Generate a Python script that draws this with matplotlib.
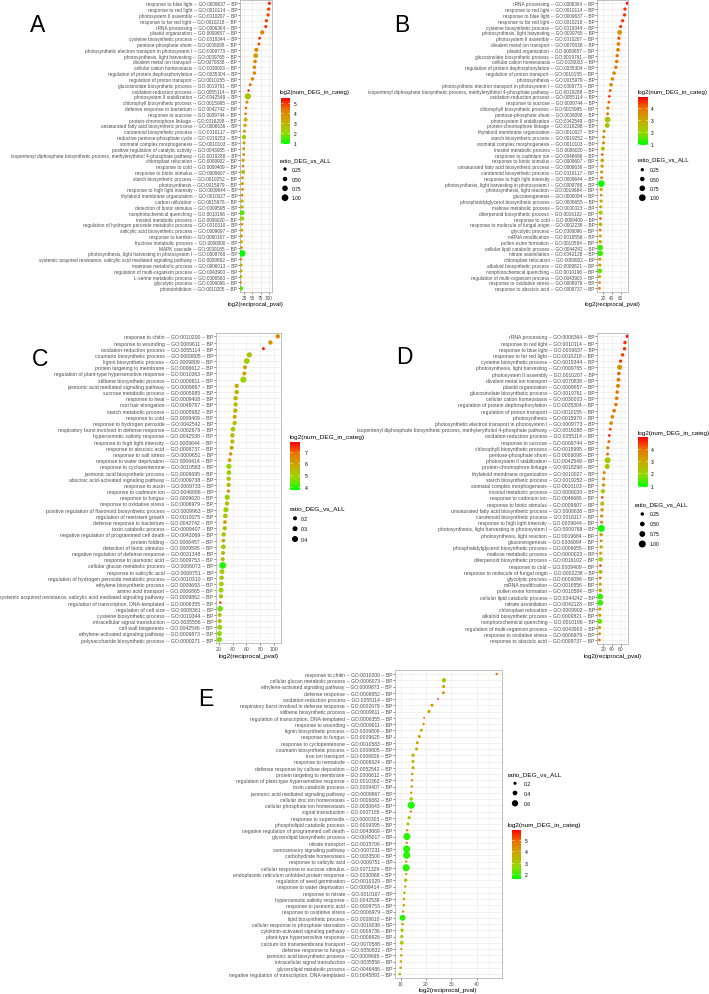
import numpy as np
import matplotlib
matplotlib.use("Agg")
import matplotlib.pyplot as plt
from matplotlib.colors import LinearSegmentedColormap, Normalize
from matplotlib.cm import ScalarMappable

W, H = 709, 995
plt.rcParams["font.family"] = ["Liberation Sans", "DejaVu Sans"]

# ---------------------------------------------------------------- panel A
terms_a = [
    "response to blue light -- GO:0009637",
    "response to red light -- GO:0010114",
    "photosystem II assembly -- GO:0010207",
    "response to far red light -- GO:0010218",
    "rRNA processing -- GO:0006364",
    "plastid organization -- GO:0009657",
    "cysteine biosynthetic process -- GO:0019344",
    "pentose-phosphate shunt -- GO:0006098",
    "photosynthetic electron transport in photosystem I -- GO:0009773",
    "photosynthesis, light harvesting -- GO:0009765",
    "divalent metal ion transport -- GO:0070838",
    "cellular cation homeostasis -- GO:0030003",
    "regulation of protein dephosphorylation -- GO:0035304",
    "regulation of proton transport -- GO:0010155",
    "glucosinolate biosynthetic process -- GO:0019761",
    "oxidation-reduction process -- GO:0055114",
    "photosystem II stabilization -- GO:0042549",
    "chlorophyll biosynthetic process -- GO:0015995",
    "defense response to bacterium -- GO:0042742",
    "response to sucrose -- GO:0009744",
    "protein-chromophore linkage -- GO:0018298",
    "unsaturated fatty acid biosynthetic process -- GO:0006636",
    "carotenoid biosynthetic process -- GO:0016117",
    "reductive pentose-phosphate cycle -- GO:0019253",
    "stomatal complex morphogenesis -- GO:0010103",
    "positive regulation of catalytic activity -- GO:0043085",
    "isopentenyl diphosphate biosynthetic process, methylerythritol 4-phosphate pathway -- GO:0019288",
    "chloroplast relocation -- GO:0009902",
    "response to cold -- GO:0009409",
    "response to biotic stimulus -- GO:0009607",
    "starch biosynthetic process -- GO:0019252",
    "photosynthesis -- GO:0015979",
    "response to high light intensity -- GO:0009644",
    "thylakoid membrane organization -- GO:0010027",
    "carbon utilization -- GO:0015976",
    "detection of biotic stimulus -- GO:0009595",
    "nonphotochemical quenching -- GO:0010196",
    "inositol metabolic process -- GO:0006020",
    "regulation of hydrogen peroxide metabolic process -- GO:0010310",
    "salicylic acid biosynthetic process -- GO:0009697",
    "response to karrikin -- GO:0080167",
    "fructose metabolic process -- GO:0006000",
    "MAPK cascade -- GO:0000165",
    "photosynthesis, light harvesting in photosystem I -- GO:0009768",
    "systemic acquired resistance, salicylic acid mediated signaling pathway -- GO:0009862",
    "mannose metabolic process -- GO:0006013",
    "regulation of multi-organism process -- GO:0043900",
    "L-serine metabolic process -- GO:0006563",
    "glycolytic process -- GO:0006096",
    "photoinhibition -- GO:0010205",
]
pval_a = [102, 100, 98, 93, 91, 80, 72, 70, 62, 60, 58, 56, 56, 50, 43, 38, 36, 33, 30, 29,
          29, 27, 25, 24, 24, 23, 23, 21, 21, 21, 19, 19, 19, 18, 18, 18, 18, 18, 17, 17,
          16, 16, 16, 18, 15, 15, 15, 14, 13, 14]
count_a = [4.9, 4.9, 4.8, 4.8, 5.0, 4.2, 4.9, 4.8, 3.8, 3.4, 4.0, 4.0, 4.0, 3.9, 4.5, 5.45, 2.6, 4.0, 4.4, 4.2,
           3.0, 3.3, 3.6, 2.4, 3.6, 3.7, 4.0, 3.3, 4.4, 2.6, 3.8, 3.2, 4.0, 3.8, 3.0, 3.0, 1.6, 2.1, 3.8, 3.2,
           3.6, 3.2, 3.8, 1.0, 3.8, 3.0, 3.0, 3.0, 4.2, 1.6]
ratio_a = [0.25, 0.25, 0.25, 0.25, 0.2, 0.45, 0.18, 0.17, 0.45, 0.6, 0.33, 0.3, 0.3, 0.3, 0.15, 0.02, 0.9, 0.18, 0.1, 0.1,
           0.4, 0.25, 0.18, 0.5, 0.18, 0.15, 0.12, 0.25, 0.08, 0.4, 0.15, 0.22, 0.12, 0.15, 0.25, 0.25, 0.6, 0.45, 0.12, 0.2,
           0.15, 0.2, 0.12, 1.0, 0.1, 0.22, 0.22, 0.22, 0.1, 0.5]

# ---------------------------------------------------------------- panel B (D shows the same terms)
terms_b = [
    "rRNA processing -- GO:0006364",
    "response to red light -- GO:0010114",
    "response to blue light -- GO:0009637",
    "response to far red light -- GO:0010218",
    "cysteine biosynthetic process -- GO:0019344",
    "photosynthesis, light harvesting -- GO:0009765",
    "photosystem II assembly -- GO:0010207",
    "divalent metal ion transport -- GO:0070838",
    "plastid organization -- GO:0009657",
    "glucosinolate biosynthetic process -- GO:0019761",
    "cellular cation homeostasis -- GO:0030003",
    "regulation of protein dephosphorylation -- GO:0035304",
    "regulation of proton transport -- GO:0010155",
    "photosynthesis -- GO:0015979",
    "photosynthetic electron transport in photosystem I -- GO:0009773",
    "isopentenyl diphosphate biosynthetic process, methylerythritol 4-phosphate pathway -- GO:0019288",
    "oxidation-reduction process -- GO:0055114",
    "response to sucrose -- GO:0009744",
    "chlorophyll biosynthetic process -- GO:0015995",
    "pentose-phosphate shunt -- GO:0006098",
    "photosystem II stabilization -- GO:0042549",
    "protein-chromophore linkage -- GO:0018298",
    "thylakoid membrane organization -- GO:0010027",
    "starch biosynthetic process -- GO:0019252",
    "stomatal complex morphogenesis -- GO:0010103",
    "inositol metabolic process -- GO:0006020",
    "response to cadmium ion -- GO:0046686",
    "response to biotic stimulus -- GO:0009607",
    "unsaturated fatty acid biosynthetic process -- GO:0006636",
    "carotenoid biosynthetic process -- GO:0016117",
    "response to high light intensity -- GO:0009644",
    "photosynthesis, light harvesting in photosystem I -- GO:0009768",
    "photosynthesis, light reaction -- GO:0019684",
    "gluconeogenesis -- GO:0006094",
    "phosphatidylglycerol biosynthetic process -- GO:0006655",
    "maltose metabolic process -- GO:0000023",
    "diterpenoid biosynthetic process -- GO:0016102",
    "response to cold -- GO:0009409",
    "response to molecule of fungal origin -- GO:0002238",
    "glycolytic process -- GO:0006096",
    "mRNA modification -- GO:0016556",
    "pollen exine formation -- GO:0010584",
    "cellular lipid catabolic process -- GO:0044242",
    "nitrate assimilation -- GO:0042128",
    "chloroplast relocation -- GO:0009902",
    "alkaloid biosynthetic process -- GO:0009821",
    "nonphotochemical quenching -- GO:0010196",
    "regulation of multi-organism process -- GO:0043900",
    "response to oxidative stress -- GO:0006979",
    "response to abscisic acid -- GO:0009737",
]
pval_b = [75.4, 70, 69, 64.6, 60, 57.7, 56, 55, 54, 52, 51, 49, 45, 41, 38, 36, 34, 33, 30.5, 30,
          30, 29, 22, 21, 20.5, 19, 17.5, 17.5, 17, 16, 16, 15.5, 15, 15, 15, 14, 14, 13.5, 13.5, 13,
          13, 13, 13, 13, 12, 12, 12, 11.5, 11.5, 11]
count_b = [4.85, 4.5, 4.5, 4.4, 4.5, 3.3, 4.2, 3.9, 3.8, 4.0, 3.9, 4.0, 3.8, 3.6, 3.5, 4.1, 4.9, 4.0, 3.8, 4.0,
           2.3, 2.5, 3.6, 3.6, 3.3, 2.3, 4.4, 2.6, 3.2, 3.3, 3.8, 1.0, 3.0, 3.8, 3.0, 3.0, 2.1, 4.3, 2.5, 4.0,
           3.0, 2.7, 1.3, 1.3, 3.2, 3.0, 1.6, 3.0, 3.8, 3.8]
ratio_b = [0.2, 0.25, 0.25, 0.25, 0.2, 0.6, 0.25, 0.33, 0.35, 0.25, 0.3, 0.25, 0.3, 0.3, 0.3, 0.15, 0.05, 0.15, 0.2, 0.15,
           0.8, 0.6, 0.18, 0.18, 0.22, 0.4, 0.05, 0.35, 0.22, 0.2, 0.15, 1.0, 0.25, 0.1, 0.22, 0.2, 0.45, 0.08, 0.35, 0.1,
           0.2, 0.3, 0.75, 0.75, 0.2, 0.22, 0.55, 0.2, 0.1, 0.1]
terms_d, pval_d, count_d, ratio_d = terms_b, pval_b, count_b, ratio_b

# ---------------------------------------------------------------- panel C
terms_c = [
    "response to chitin -- GO:0010200",
    "response to wounding -- GO:0009611",
    "oxidation-reduction process -- GO:0055114",
    "coumarin biosynthetic process -- GO:0009805",
    "lignin biosynthetic process -- GO:0009809",
    "protein targeting to membrane -- GO:0006612",
    "regulation of plant-type hypersensitive response -- GO:0010363",
    "stilbene biosynthetic process -- GO:0009811",
    "jasmonic acid mediated signaling pathway -- GO:0009867",
    "sucrose metabolic process -- GO:0005985",
    "response to heat -- GO:0009408",
    "root hair elongation -- GO:0048767",
    "starch metabolic process -- GO:0005982",
    "response to cold -- GO:0009409",
    "response to hydrogen peroxide -- GO:0042542",
    "respiratory burst involved in defense response -- GO:0002679",
    "hyperosmotic salinity response -- GO:0042538",
    "response to high light intensity -- GO:0009644",
    "response to abscisic acid -- GO:0009737",
    "response to salt stress -- GO:0009651",
    "response to water deprivation -- GO:0009414",
    "response to cyclopentenone -- GO:0010583",
    "jasmonic acid biosynthetic process -- GO:0009695",
    "abscisic acid-activated signaling pathway -- GO:0009738",
    "response to auxin -- GO:0009733",
    "response to cadmium ion -- GO:0046686",
    "response to fungus -- GO:0009620",
    "response to oxidative stress -- GO:0006979",
    "positive regulation of flavonoid biosynthetic process -- GO:0009963",
    "regulation of meristem growth -- GO:0010075",
    "defense response to bacterium -- GO:0042742",
    "toxin catabolic process -- GO:0009407",
    "negative regulation of programmed cell death -- GO:0043069",
    "protein folding -- GO:0006457",
    "detection of biotic stimulus -- GO:0009595",
    "negative regulation of defense response -- GO:0031348",
    "response to jasmonic acid -- GO:0009753",
    "cellular glucan metabolic process -- GO:0006073",
    "response to salicylic acid -- GO:0009751",
    "regulation of hydrogen peroxide metabolic process -- GO:0010310",
    "ethylene biosynthetic process -- GO:0009693",
    "amino acid transport -- GO:0006865",
    "systemic acquired resistance, salicylic acid mediated signaling pathway -- GO:0009862",
    "regulation of transcription, DNA-templated -- GO:0006355",
    "regulation of cell size -- GO:0008361",
    "cysteine biosynthetic process -- GO:0019344",
    "intracellular signal transduction -- GO:0035556",
    "cell wall biogenesis -- GO:0042546",
    "ethylene-activated signaling pathway -- GO:0009873",
    "polysaccharide biosynthetic process -- GO:0000271",
]
pval_c = [105.3, 94.7, 84.6, 64.3, 60.5, 58, 57, 55.6, 46, 46, 44.5, 44.5, 44, 43, 43, 40.6, 39.7, 39.7, 38.7, 37.3,
          35.8, 34.8, 34.8, 34.4, 34.4, 34.0, 32.4, 32, 30.5, 29.6, 29, 28.7, 27.2, 26.7, 26.7, 26.3, 25.8, 25.8, 24.8, 24.3,
          23.9, 23.4, 23.4, 22.4, 22, 21.4, 21.4, 21.4, 21, 21]
count_c = [6.3, 6.3, 7.6, 5.2, 5.0, 6.0, 6.0, 4.8, 5.8, 5.6, 5.5, 5.3, 5.5, 5.9, 5.3, 5.2, 5.3, 5.4, 5.8, 6.3,
           6.0, 4.7, 5.0, 5.3, 5.4, 6.5, 5.0, 5.5, 4.8, 5.2, 5.9, 5.4, 5.2, 5.9, 4.9, 5.4, 5.5, 3.9, 5.1, 5.2,
           5.0, 4.8, 5.3, 7.2, 4.5, 5.2, 5.2, 4.7, 4.7, 4.6]
ratio_c = [0.24, 0.24, 0.1, 0.33, 0.38, 0.2, 0.2, 0.42, 0.22, 0.24, 0.24, 0.24, 0.24, 0.2, 0.24, 0.27, 0.25, 0.22, 0.2, 0.15,
           0.18, 0.32, 0.28, 0.24, 0.23, 0.12, 0.32, 0.23, 0.32, 0.27, 0.18, 0.23, 0.25, 0.17, 0.28, 0.2, 0.2, 0.47, 0.28, 0.24,
           0.26, 0.3, 0.22, 0.06, 0.36, 0.2, 0.22, 0.3, 0.3, 0.32]

# ---------------------------------------------------------------- panel E
terms_e = [
    "response to chitin -- GO:0010200",
    "cellular glucan metabolic process -- GO:0006073",
    "ethylene-activated signaling pathway -- GO:0009873",
    "defense response -- GO:0006952",
    "oxidation-reduction process -- GO:0055114",
    "respiratory burst involved in defense response -- GO:0002679",
    "stilbene biosynthetic process -- GO:0009811",
    "regulation of transcription, DNA-templated -- GO:0006355",
    "response to wounding -- GO:0009611",
    "lignin biosynthetic process -- GO:0009809",
    "response to fungus -- GO:0009620",
    "response to cyclopentenone -- GO:0010583",
    "coumarin biosynthetic process -- GO:0009805",
    "iron ion transport -- GO:0006826",
    "response to nematode -- GO:0009624",
    "defense response by callose deposition -- GO:0052542",
    "protein targeting to membrane -- GO:0006612",
    "regulation of plant-type hypersensitive response -- GO:0010363",
    "toxin catabolic process -- GO:0009407",
    "jasmonic acid mediated signaling pathway -- GO:0009867",
    "cellular zinc ion homeostasis -- GO:0006882",
    "cellular phosphate ion homeostasis -- GO:0030643",
    "signal transduction -- GO:0007165",
    "response to superoxide -- GO:0000303",
    "phospholipid catabolic process -- GO:0009395",
    "negative regulation of programmed cell death -- GO:0043069",
    "glycerolipid biosynthetic process -- GO:0045017",
    "nitrate transport -- GO:0015706",
    "osmosensory signaling pathway -- GO:0007231",
    "carbohydrate homeostasis -- GO:0033500",
    "response to salicylic acid -- GO:0009751",
    "cellular response to sucrose stimulus -- GO:0071329",
    "endoplasmic reticulum unfolded protein response -- GO:0030968",
    "regulation of seed germination -- GO:0010029",
    "response to water deprivation -- GO:0009414",
    "response to nitrate -- GO:0010167",
    "hyperosmotic salinity response -- GO:0042538",
    "response to jasmonic acid -- GO:0009753",
    "response to oxidative stress -- GO:0006979",
    "lipid biosynthetic process -- GO:0008610",
    "cellular response to phosphate starvation -- GO:0016036",
    "cytokinin-activated signaling pathway -- GO:0009736",
    "plant-type hypersensitive response -- GO:0009626",
    "calcium ion transmembrane transport -- GO:0070588",
    "defense response to fungus -- GO:0050832",
    "jasmonic acid biosynthetic process -- GO:0009695",
    "intracellular signal transduction -- GO:0035556",
    "glycerolipid metabolic process -- GO:0046486",
    "negative regulation of transcription, DNA-templated -- GO:0045892",
]
pval_e = [47.9, 27.1, 27, 26.9, 24.8, 22.4, 21.2, 19.3, 19.1, 18.2, 17.4, 16.6, 16.3, 14.9, 14.9, 14.9, 14.6, 14.5, 14.4, 14.2,
          14.2, 14.2, 14.0, 13.4, 12.9, 12.6, 12.5, 12.4, 12.4, 12.4, 12.2, 12.2, 12.2, 12.0, 11.8, 11.5, 11.3, 11.3, 11.0, 10.8,
          10.8, 10.6, 10.5, 10.5, 10.3, 10.3, 10.1, 10.0, 9.7]
count_e = [4.9, 3.3, 4.0, 4.3, 5.8, 4.0, 3.7, 5.4, 4.5, 3.8, 3.8, 3.7, 3.8, 3.5, 3.6, 3.4, 4.2, 4.2, 4.1, 4.2,
           3.0, 1.8, 4.3, 3.0, 3.1, 4.2, 1.9, 4.0, 1.9, 1.9, 4.0, 1.9, 4.1, 3.0, 4.2, 3.6, 3.7, 3.7, 4.3, 1.9,
           3.7, 3.0, 3.1, 2.8, 4.2, 3.7, 3.7, 3.7, 3.7]
ratio_e = [0.1, 0.35, 0.2, 0.17, 0.02, 0.2, 0.22, 0.02, 0.1, 0.2, 0.2, 0.2, 0.2, 0.22, 0.2, 0.22, 0.12, 0.12, 0.12, 0.1,
           0.27, 0.7, 0.1, 0.22, 0.2, 0.12, 0.7, 0.12, 0.7, 0.7, 0.12, 0.7, 0.1, 0.25, 0.1, 0.15, 0.15, 0.15, 0.1, 0.55,
           0.15, 0.25, 0.22, 0.3, 0.08, 0.14, 0.14, 0.14, 0.14]

CMAP = LinearSegmentedColormap.from_list(
    "green_red", ["#00FF00", "#98D700", "#C8AB00", "#E87700", "#FF0000"])
GRID = "#EBEBEB"
TXT = "#4D4D4D"

fig = plt.figure(figsize=(W / 100, H / 100), dpi=100)


def px_axes(x0, y0, x1, y1):
    """Axes placed by pixel box (top-left origin)."""
    return fig.add_axes([x0 / W, 1 - y1 / H, (x1 - x0) / W, (y1 - y0) / H])


def dot_area(r, d0, k):
    d = d0 + k * np.asarray(r, dtype=float)  # diameter in px
    return (d * 0.72) ** 2


def draw_panel(box, terms, pval, count, ratio, xlim, xticks, minor, norm, size, fs, fs_title):
    ax = px_axes(*box)
    n = len(terms)
    y = np.arange(n)
    ax.scatter(pval, y, s=dot_area(ratio, *size), c=count, cmap=CMAP, norm=norm,
               edgecolors="none", zorder=3)
    ax.set_xlim(*xlim)
    ax.set_ylim(n - 0.4, -0.6)
    ax.set_yticks(y)
    ax.set_yticklabels([t + " -- BP" for t in terms], fontsize=fs, color=TXT)
    ax.set_xticks(xticks)
    ax.set_xticklabels([str(v) for v in xticks], fontsize=fs, color=TXT)
    ax.set_xticks(minor, minor=True)
    ax.grid(which="major", color=GRID, lw=0.5)
    ax.grid(which="minor", axis="x", color="#F4F4F4", lw=0.3)
    ax.set_axisbelow(True)
    ax.tick_params(which="major", length=1.2, width=0.4, color="#333333", pad=0.8)
    ax.tick_params(which="minor", length=0)
    for sp in ax.spines.values():
        sp.set_color("#A8A8A8")
        sp.set_linewidth(0.5)
    ax.set_xlabel("log2(reciprocal_pval)", fontsize=fs_title, labelpad=1.2)
    return ax


def draw_colorbar(box, norm, ticks, fs, pad):
    cax = px_axes(*box)
    cb = fig.colorbar(ScalarMappable(norm=norm, cmap=CMAP), cax=cax)
    cb.outline.set_visible(False)
    cb.set_ticks(ticks)
    cb.set_ticklabels([str(t) for t in ticks])
    cax.tick_params(labelsize=fs, length=0, pad=pad)
    for t in ticks:
        cax.hlines(t, 0, 0.2, color="white", lw=0.4)
        cax.hlines(t, 0.8, 1, color="white", lw=0.4)


norm_a = Normalize(0.95, 5.45)
norm_b = Normalize(0.9, 4.93)
norm_c = Normalize(3.7, 7.83)
norm_e = Normalize(1.6, 5.9)

size_a = (2.2, 4.5)
size_d = (2.3, 4.7)
size_c = (2.0, 10.0)
size_e = (1.5, 8.0)

draw_panel((240, 0.8, 271.7, 292.8), terms_a, pval_a, count_a, ratio_a, (11.6, 109.2),
           [25, 50, 75, 100], [12.5, 37.5, 62.5, 87.5], norm_a, size_a, 3.45, 4.35)
draw_panel((597.3, 0.8, 628.3, 292.8), terms_b, pval_b, count_b, ratio_b, (6.2, 77.7),
           [20, 40, 60], [10, 30, 50, 70], norm_b, size_a, 3.45, 4.35)
draw_panel((216, 333.6, 281, 644.4), terms_c, pval_c, count_c, ratio_c, (16.1, 110),
           [20, 40, 60, 80, 100], [30, 50, 70, 90], norm_c, size_c, 3.7, 4.65)
draw_panel((597.3, 333.6, 628.3, 644.7), terms_d, pval_d, count_d, ratio_d, (6.2, 77.7),
           [20, 40, 60], [10, 30, 50, 70], norm_b, size_d, 3.6, 4.5)
draw_panel((395, 671.25, 501.7, 978.75), terms_e, pval_e, count_e, ratio_e, (7.8, 49.9),
           [10, 20, 30, 40], [15, 25, 35, 45], norm_e, size_e, 3.65, 4.6)

# colour bars
draw_colorbar((280.7, 99, 290, 145), norm_a, [1, 2, 3, 4, 5], 3.5, 2.9)
draw_colorbar((638.3, 98, 647.7, 145.7), norm_b, [1, 2, 3, 4], 3.5, 2.0)
draw_colorbar((290, 443, 300, 491), norm_c, [4, 5, 6, 7], 3.7, 3.2)
draw_colorbar((638.3, 438.3, 648, 488), norm_b, [1, 2, 3, 4], 3.6, 2.0)
draw_colorbar((511.7, 830.7, 521, 880), norm_e, [2, 3, 4, 5], 3.6, 2.6)

# overlay in pixel coordinates for panel letters and legend keys
ov = fig.add_axes([0, 0, 1, 1])
ov.set_xlim(0, W)
ov.set_ylim(H, 0)
ov.axis("off")

for letter, x, y in [("A", 38, 25.7), ("B", 401.7, 25.7), ("C", 40, 359),
                     ("D", 404, 357.5), ("E", 205.5, 700)]:
    ov.text(x, y, letter, fontsize=16.5, ha="center", va="center")


def size_legend(x_title, y_title, x_dot, x_lab, ys, values, labels, size, fs, fs_title):
    ov.text(x_title, y_title, "ratio_DEG_vs_ALL", fontsize=fs_title, va="center", ha="left")
    ov.scatter([x_dot] * len(values), ys, s=dot_area(values, *size), color="black",
               edgecolors="none", clip_on=False)
    for yy, lab in zip(ys, labels):
        ov.text(x_lab, yy, lab, fontsize=fs, va="center", ha="left")


lab_quarter = ["0.25", "0.50", "0.75", "1.00"]
ov.text(280, 92.7, "log2(num_DEG_in_categ)", fontsize=4.35, va="center")
size_legend(280, 161, 285, 291.7, [170, 180, 189.3, 198.7], [0.25, 0.5, 0.75, 1.0],
            lab_quarter, size_a, 3.5, 4.35)

ov.text(637.7, 92.7, "log2(num_DEG_in_categ)", fontsize=4.35, va="center")
size_legend(637.7, 160, 642.3, 650, [170.7, 180, 189.3, 198.7], [0.25, 0.5, 0.75, 1.0],
            lab_quarter, size_a, 3.5, 4.35)

ov.text(289.3, 437.3, "log2(num_DEG_in_categ)", fontsize=4.65, va="center")
size_legend(289.3, 509, 295, 300.5, [519.3, 529.7, 540], [0.2, 0.3, 0.4],
            ["0.2", "0.3", "0.4"], size_c, 3.7, 4.65)

ov.text(637.7, 433.3, "log2(num_DEG_in_categ)", fontsize=4.5, va="center")
size_legend(634.3, 505, 642.3, 650, [515, 525, 535, 545], [0.25, 0.5, 0.75, 1.0],
            lab_quarter, size_d, 3.6, 4.5)

size_legend(507.3, 775, 515, 523.3, [784.3, 794, 804.3], [0.2, 0.4, 0.6],
            ["0.2", "0.4", "0.6"], size_e, 3.6, 4.6)
ov.text(507.3, 825, "log2(num_DEG_in_categ)", fontsize=4.6, va="center")

fig.savefig("out.png", dpi=100)
